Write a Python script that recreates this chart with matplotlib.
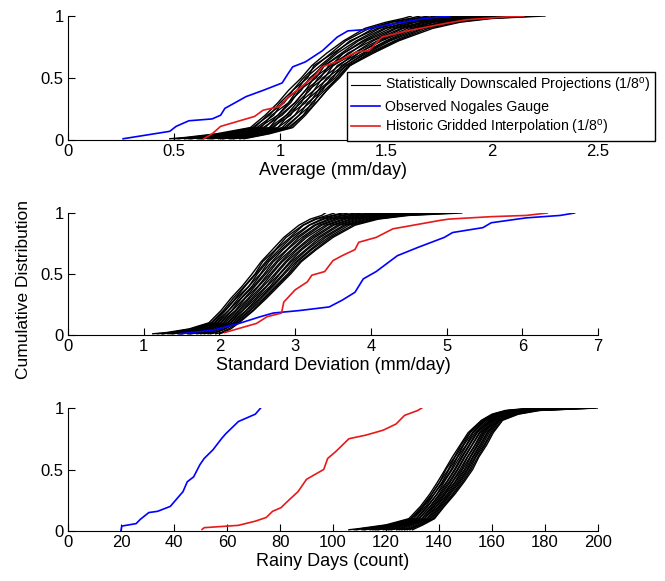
import matplotlib
matplotlib.use('Agg')
import matplotlib.pyplot as plt
from matplotlib.lines import Line2D

plt.rcParams['font.family'] = ['Liberation Sans', 'DejaVu Sans']
plt.rcParams['mathtext.fontset'] = 'custom'
plt.rcParams['mathtext.rm'] = 'Liberation Sans'
plt.rcParams['mathtext.it'] = 'Liberation Sans'

# cumulative levels shared by the ensemble curves
levels = [0.01, 0.02, 0.05, 0.1, 0.2, 0.3, 0.4, 0.5, 0.6, 0.7, 0.8, 0.9, 0.95, 0.98, 1.0]

# ---- Average (mm/day)
avg_obs_x = [0.26, 0.48, 0.51, 0.57, 0.68, 0.72, 0.74, 0.84, 0.92, 1.01, 1.04, 1.06, 1.12,
             1.20, 1.27, 1.32, 1.40, 1.48, 1.58, 1.68, 1.80]
avg_obs_y = [0.01, 0.07, 0.11, 0.155, 0.17, 0.20, 0.255, 0.35, 0.40, 0.46, 0.54, 0.59, 0.63,
             0.72, 0.83, 0.88, 0.89, 0.92, 0.95, 0.98, 1.0]
avg_hist_x = [0.64, 0.68, 0.72, 0.80, 0.88, 0.92, 1.00, 1.04, 1.08, 1.16, 1.20, 1.28, 1.36,
              1.42, 1.48, 1.60, 1.78, 1.88, 2.08, 2.15]
avg_hist_y = [0.01, 0.05, 0.11, 0.15, 0.19, 0.24, 0.27, 0.35, 0.40, 0.51, 0.59, 0.64, 0.71,
              0.72, 0.83, 0.88, 0.94, 0.97, 0.995, 1.0]
avg_proj = [
    [0.48, 0.55, 0.70, 0.86, 0.93, 0.99, 1.04, 1.10, 1.15, 1.22, 1.30, 1.40, 1.50, 1.58, 1.62],
    [0.52, 0.57, 0.72, 0.87, 0.95, 1.00, 1.06, 1.11, 1.17, 1.24, 1.31, 1.42, 1.52, 1.61, 1.66],
    [0.50, 0.60, 0.73, 0.88, 0.94, 1.02, 1.06, 1.13, 1.16, 1.25, 1.34, 1.44, 1.53, 1.63, 1.70],
    [0.55, 0.61, 0.75, 0.89, 0.97, 1.01, 1.08, 1.12, 1.19, 1.26, 1.33, 1.46, 1.56, 1.65, 1.74],
    [0.58, 0.62, 0.74, 0.91, 0.96, 1.04, 1.08, 1.15, 1.20, 1.27, 1.36, 1.47, 1.57, 1.68, 1.78],
    [0.57, 0.64, 0.77, 0.90, 0.99, 1.04, 1.10, 1.14, 1.21, 1.29, 1.37, 1.49, 1.60, 1.70, 1.80],
    [0.61, 0.66, 0.78, 0.93, 0.99, 1.05, 1.09, 1.17, 1.21, 1.30, 1.39, 1.50, 1.61, 1.71, 1.84],
    [0.63, 0.68, 0.80, 0.92, 1.01, 1.07, 1.12, 1.16, 1.24, 1.30, 1.40, 1.52, 1.63, 1.74, 1.86],
    [0.62, 0.69, 0.79, 0.95, 1.00, 1.07, 1.12, 1.19, 1.23, 1.33, 1.41, 1.54, 1.64, 1.76, 1.89],
    [0.66, 0.70, 0.82, 0.95, 1.03, 1.08, 1.14, 1.18, 1.25, 1.32, 1.43, 1.55, 1.67, 1.77, 1.91],
    [0.68, 0.72, 0.83, 0.97, 1.03, 1.10, 1.13, 1.21, 1.25, 1.35, 1.44, 1.57, 1.68, 1.80, 1.95],
    [0.67, 0.74, 0.85, 0.96, 1.05, 1.09, 1.16, 1.20, 1.28, 1.35, 1.46, 1.58, 1.70, 1.82, 1.97],
    [0.71, 0.75, 0.86, 0.99, 1.04, 1.12, 1.16, 1.23, 1.27, 1.37, 1.47, 1.60, 1.72, 1.84, 2.01],
    [0.73, 0.77, 0.87, 0.99, 1.07, 1.11, 1.18, 1.22, 1.30, 1.37, 1.48, 1.62, 1.73, 1.86, 2.04],
    [0.72, 0.79, 0.89, 1.01, 1.07, 1.14, 1.18, 1.25, 1.29, 1.39, 1.50, 1.63, 1.76, 1.89, 2.07],
    [0.76, 0.80, 0.90, 1.02, 1.09, 1.13, 1.20, 1.24, 1.31, 1.40, 1.51, 1.65, 1.77, 1.91, 2.12],
    [0.78, 0.82, 0.91, 1.03, 1.09, 1.16, 1.19, 1.26, 1.31, 1.41, 1.52, 1.67, 1.79, 1.93, 2.15],
    [0.77, 0.83, 0.92, 1.04, 1.11, 1.15, 1.21, 1.27, 1.33, 1.42, 1.54, 1.68, 1.81, 1.95, 2.18],
    [0.81, 0.85, 0.94, 1.05, 1.11, 1.17, 1.22, 1.27, 1.32, 1.43, 1.55, 1.70, 1.83, 1.98, 2.21],
    [0.83, 0.86, 0.95, 1.06, 1.12, 1.17, 1.22, 1.28, 1.33, 1.44, 1.56, 1.72, 1.85, 2.00, 2.25],
]

# ---- Standard Deviation (mm/day)
std_obs_x = [1.47, 1.92, 2.26, 2.54, 2.71, 3.05, 3.45, 3.62, 3.79, 3.90, 4.07, 4.35, 4.63,
             4.97, 5.08, 5.48, 5.59, 6.05, 6.50, 6.69]
std_obs_y = [0.01, 0.04, 0.095, 0.15, 0.18, 0.20, 0.23, 0.285, 0.35, 0.46, 0.52, 0.65, 0.72,
             0.80, 0.84, 0.88, 0.92, 0.96, 0.98, 1.0]
std_hist_x = [2.07, 2.26, 2.49, 2.63, 2.82, 2.85, 3.00, 3.16, 3.22, 3.39, 3.50, 3.62, 3.79,
              3.84, 4.07, 4.29, 4.92, 5.03, 5.59, 6.05, 6.33]
std_hist_y = [0.02, 0.054, 0.095, 0.15, 0.18, 0.27, 0.37, 0.435, 0.49, 0.52, 0.61, 0.65, 0.70,
              0.76, 0.80, 0.87, 0.94, 0.95, 0.97, 0.98, 1.0]
std_proj = [
    [1.12, 1.30, 1.60, 1.86, 2.02, 2.15, 2.30, 2.43, 2.55, 2.70, 2.85, 3.05, 3.20, 3.35, 3.40],
    [1.18, 1.36, 1.63, 1.89, 2.05, 2.18, 2.33, 2.47, 2.57, 2.74, 2.88, 3.10, 3.26, 3.42, 3.52],
    [1.25, 1.35, 1.66, 1.90, 2.07, 2.21, 2.34, 2.48, 2.61, 2.75, 2.93, 3.11, 3.28, 3.49, 3.62],
    [1.24, 1.43, 1.68, 1.93, 2.08, 2.22, 2.39, 2.50, 2.63, 2.79, 2.95, 3.18, 3.35, 3.52, 3.70],
    [1.32, 1.45, 1.71, 1.94, 2.12, 2.25, 2.39, 2.54, 2.65, 2.82, 2.99, 3.19, 3.38, 3.60, 3.80],
    [1.38, 1.50, 1.74, 1.97, 2.12, 2.28, 2.43, 2.55, 2.69, 2.84, 3.02, 3.25, 3.44, 3.65, 3.88],
    [1.36, 1.53, 1.76, 1.98, 2.16, 2.29, 2.45, 2.59, 2.71, 2.89, 3.05, 3.27, 3.48, 3.73, 3.98],
    [1.45, 1.57, 1.80, 2.01, 2.17, 2.33, 2.47, 2.61, 2.75, 2.90, 3.09, 3.32, 3.53, 3.78, 4.07],
    [1.50, 1.61, 1.82, 2.02, 2.21, 2.34, 2.51, 2.64, 2.77, 2.95, 3.12, 3.35, 3.57, 3.85, 4.15],
    [1.48, 1.64, 1.85, 2.05, 2.22, 2.38, 2.52, 2.67, 2.81, 2.97, 3.15, 3.40, 3.63, 3.90, 4.25],
    [1.58, 1.70, 1.88, 2.07, 2.25, 2.40, 2.56, 2.69, 2.83, 3.01, 3.20, 3.43, 3.67, 3.98, 4.35],
    [1.62, 1.72, 1.90, 2.10, 2.27, 2.43, 2.58, 2.73, 2.87, 3.03, 3.23, 3.48, 3.73, 4.03, 4.42],
    [1.60, 1.77, 1.94, 2.11, 2.30, 2.45, 2.62, 2.75, 2.89, 3.07, 3.26, 3.51, 3.77, 4.10, 4.52],
    [1.70, 1.80, 1.96, 2.14, 2.31, 2.48, 2.63, 2.79, 2.93, 3.09, 3.30, 3.56, 3.82, 4.15, 4.60],
    [1.75, 1.85, 2.00, 2.15, 2.35, 2.50, 2.67, 2.80, 2.95, 3.14, 3.33, 3.59, 3.87, 4.22, 4.72],
    [1.80, 1.88, 2.02, 2.18, 2.36, 2.53, 2.69, 2.84, 2.98, 3.16, 3.37, 3.64, 3.92, 4.28, 4.80],
    [1.85, 1.93, 2.06, 2.20, 2.39, 2.55, 2.71, 2.86, 3.01, 3.20, 3.40, 3.67, 3.97, 4.33, 4.90],
    [1.88, 1.96, 2.08, 2.22, 2.41, 2.58, 2.74, 2.90, 3.03, 3.22, 3.44, 3.71, 4.02, 4.40, 5.00],
    [1.95, 2.02, 2.12, 2.24, 2.44, 2.60, 2.76, 2.92, 3.06, 3.26, 3.47, 3.76, 4.06, 4.45, 5.10],
    [2.00, 2.05, 2.15, 2.26, 2.45, 2.62, 2.78, 2.94, 3.08, 3.28, 3.50, 3.79, 4.10, 4.50, 5.20],
]

# ---- Rainy Days (count)
rain_obs_x = [20.0, 20.3, 25.7, 27.3, 30.5, 33.8, 38.6, 43.4, 45.0, 47.4, 49.8, 51.4, 54.7,
              57.9, 59.5, 64.3, 67.5, 70.7, 72.7]
rain_obs_y = [0.005, 0.04, 0.06, 0.095, 0.15, 0.16, 0.20, 0.32, 0.40, 0.44, 0.54, 0.59, 0.66,
              0.75, 0.79, 0.89, 0.92, 0.95, 1.0]
rain_hist_x = [50.6, 51.4, 64.3, 70.7, 74.8, 77.2, 80.4, 82.8, 86.8, 90.0, 93.2, 96.5, 98.0,
               101.0, 106.0, 112.5, 119.0, 123.8, 127.0, 132.0, 133.5]
rain_hist_y = [0.013, 0.027, 0.046, 0.08, 0.11, 0.16, 0.19, 0.24, 0.32, 0.42, 0.46, 0.50, 0.59,
               0.645, 0.75, 0.78, 0.82, 0.87, 0.94, 0.98, 1.0]
rain_proj = [
    [106, 110, 120, 128.6, 133.0, 136.5, 139.5, 142.3, 145.0, 148.0, 151.0, 156.0, 160.0, 165.0, 175],
    [108, 112, 121, 129.3, 133.6, 137.2, 140.3, 142.6, 145.8, 148.4, 151.6, 156.3, 160.6, 166.0, 176],
    [109, 111, 122, 129.5, 134.2, 137.3, 140.4, 143.5, 146.0, 149.1, 151.8, 156.9, 161.0, 166.2, 178],
    [112, 114, 122, 130.3, 134.2, 138.1, 141.2, 143.8, 146.8, 149.4, 152.6, 157.1, 161.6, 167.1, 179],
    [111, 116, 123, 130.4, 135.0, 138.2, 141.6, 144.6, 147.0, 150.3, 152.9, 157.6, 162.1, 167.8, 180],
    [114, 116, 124, 131.3, 135.5, 139.2, 142.0, 145.0, 147.8, 150.5, 153.6, 158.2, 162.6, 168.5, 182],
    [115, 118, 125, 131.6, 135.8, 139.3, 142.9, 145.8, 148.4, 151.3, 154.1, 158.5, 163.3, 169.0, 183],
    [117, 119, 125, 132.3, 136.6, 140.1, 143.1, 146.2, 148.8, 151.6, 154.5, 159.1, 163.6, 169.8, 184],
    [116, 121, 126, 132.5, 136.8, 140.5, 143.8, 146.9, 149.5, 152.4, 155.2, 159.4, 164.4, 170.5, 186],
    [119, 121, 127, 133.4, 137.4, 141.0, 144.3, 147.2, 149.8, 152.6, 155.5, 159.9, 164.6, 171.0, 187],
    [120, 123, 127, 133.6, 137.9, 141.6, 145.0, 147.9, 150.6, 153.5, 156.1, 160.3, 165.5, 172.0, 188],
    [122, 124, 128, 134.4, 138.2, 142.1, 145.2, 148.5, 150.8, 153.8, 156.6, 160.7, 165.8, 172.5, 190],
    [121, 125, 129, 134.6, 138.9, 142.4, 146.0, 148.9, 151.6, 154.4, 157.0, 161.1, 166.4, 173.2, 191],
    [124, 126, 129, 135.5, 139.1, 143.1, 146.3, 149.6, 151.9, 154.8, 157.5, 161.4, 166.9, 174.0, 192],
    [125, 127, 130, 135.7, 139.8, 143.5, 146.9, 150.0, 152.6, 155.4, 158.1, 161.9, 167.5, 174.5, 194],
    [126, 128, 131, 136.3, 140.2, 144.0, 147.4, 150.6, 152.9, 155.9, 158.4, 162.3, 168.0, 175.3, 195],
    [127, 129, 132, 136.8, 140.7, 144.4, 147.9, 151.0, 153.5, 156.4, 158.9, 162.7, 168.3, 176.0, 196],
    [128, 129, 133, 137.4, 141.1, 145.1, 148.4, 151.6, 153.9, 157.0, 159.5, 163.0, 169.0, 176.5, 198],
    [129, 130, 133, 137.9, 141.7, 145.5, 149.0, 152.1, 154.6, 157.4, 160.0, 163.6, 169.5, 177.3, 199],
    [130, 131, 134, 138.3, 142.0, 146.0, 149.5, 152.7, 155.0, 158.0, 160.5, 164.0, 170.0, 178.0, 200],
]

panels = [
    ('Average (mm/day)', avg_proj, avg_obs_x, avg_obs_y, avg_hist_x, avg_hist_y,
     [0, 0.5, 1, 1.5, 2, 2.5], ['0', '0.5', '1', '1.5', '2', '2.5'], (0, 2.5)),
    ('Standard Deviation (mm/day)', std_proj, std_obs_x, std_obs_y, std_hist_x, std_hist_y,
     [0, 1, 2, 3, 4, 5, 6, 7], ['0', '1', '2', '3', '4', '5', '6', '7'], (0, 7)),
    ('Rainy Days (count)', rain_proj, rain_obs_x, rain_obs_y, rain_hist_x, rain_hist_y,
     [0, 20, 40, 60, 80, 100, 120, 140, 160, 180, 200],
     ['0', '20', '40', '60', '80', '100', '120', '140', '160', '180', '200'], (0, 200)),
]

W, H = 665, 581
fig = plt.figure(figsize=(W / 100, H / 100), dpi=100)
# axes rectangles in pixels: (top, bottom) of the plotting area
rows = [(16, 140), (213, 335), (408, 531)]
left_px, right_px = 68, 598

blue = (0, 0, 1)
red = (0.9, 0.1, 0.1)

axes = []
for (xlabel, proj, ox, oy, hx, hy, xt, xtl, xl), (top, bot) in zip(panels, rows):
    ax = fig.add_axes([left_px / W, 1 - bot / H, (right_px - left_px) / W, (bot - top) / H])
    for c in proj:
        ax.plot(c, levels, color='black', linewidth=1.0)
    ax.plot(ox, oy, color=blue, linewidth=1.2)
    ax.plot(hx, hy, color=red, linewidth=1.2)
    ax.set_xlim(*xl)
    ax.set_ylim(0, 1)
    ax.set_xticks(xt)
    ax.set_xticklabels(xtl)
    ax.set_yticks([0, 0.5, 1])
    ax.set_yticklabels(['0', '0.5', '1'])
    ax.spines['top'].set_visible(False)
    ax.spines['right'].set_visible(False)
    ax.tick_params(direction='in', length=5, labelsize=12, pad=3)
    ax.set_xlabel(xlabel, fontsize=13, labelpad=2)
    axes.append(ax)

axes[1].set_ylabel('Cumulative Distribution', fontsize=12.5)
axes[1].yaxis.set_label_coords(-0.07, 0.37)

handles = [
    Line2D([], [], color='black', linewidth=0.8),
    Line2D([], [], color=blue, linewidth=1.2),
    Line2D([], [], color=red, linewidth=1.2),
]
labels = [r'Statistically Downscaled Projections (1/8$^{\mathrm{o}}$)',
          'Observed Nogales Gauge',
          r'Historic Gridded Interpolation (1/8$^{\mathrm{o}}$)']
leg = fig.legend(handles, labels, loc='lower left',
                 bbox_to_anchor=(347 / W, 1 - 141 / H), fontsize=10.2,
                 frameon=True, fancybox=False, framealpha=1, edgecolor='black',
                 borderpad=0.3, handlelength=2.0, handletextpad=0.4, labelspacing=0.3,
                 borderaxespad=0)
leg.get_frame().set_linewidth(1.0)

fig.savefig('out.png', dpi=100)
